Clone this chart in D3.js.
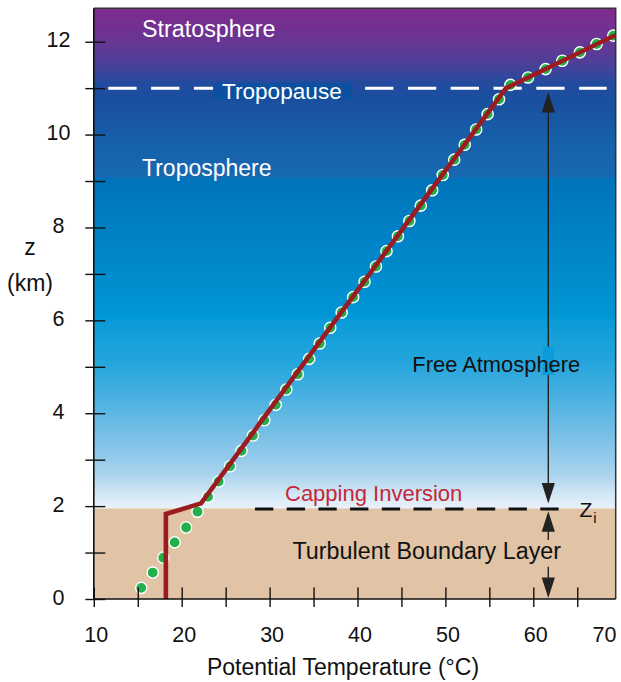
<!DOCTYPE html>
<html><head><meta charset="utf-8">
<script src="https://cdn.jsdelivr.net/npm/d3@7"></script>
<style>html,body{margin:0;padding:0;background:#fff;} svg{display:block;} text{font-family:"Liberation Sans",Arial,Helvetica,sans-serif;}</style>
</head><body><svg id="c" width="621" height="682"></svg>
<script>
// ---- data ----
const blTemp = [15.4, 16.7, 17.9, 19.2, 20.5, 21.8];
const blZ    = [0.24, 0.57, 0.89, 1.22, 1.54, 1.88];
const dotTemp = [23.0, 24.2, 25.5, 26.8, 28.1, 29.4, 30.7, 31.9, 33.2, 34.5, 35.7, 36.9, 38.2, 39.5, 40.8, 42.1, 43.3, 44.6, 45.9, 47.2, 48.5, 49.7, 51.0, 52.2, 53.5, 54.8, 56.1, 57.4, 59.4, 61.4, 63.3, 65.3, 67.2, 69.1];
const dotZ    = [2.20, 2.53, 2.86, 3.19, 3.52, 3.85, 4.18, 4.51, 4.84, 5.17, 5.50, 5.84, 6.17, 6.50, 6.83, 7.16, 7.49, 7.81, 8.14, 8.47, 8.80, 9.13, 9.46, 9.78, 10.11, 10.44, 10.76, 11.07, 11.23, 11.41, 11.59, 11.77, 11.95, 12.13];
const profileTemp = [18.2, 18.2, 22.2, 56.9, 69.3];
const profileZ    = [0, 1.83, 2.06, 11.0, 12.14];
const tropopauseZ = 11.0;
const ziZ = 1.95;
const xTicks = [10, 15, 20, 25, 30, 35, 40, 45, 50, 55, 60, 65];
const xTickLabels = [10, 20, 30, 40, 50, 60, 70];
const yTicks = [0, 1, 2, 3, 4, 5, 6, 7, 8, 9, 10, 11, 12];
const yTickLabels = [0, 2, 4, 6, 8, 10, 12];
const layerNames = ["Stratosphere", "Tropopause", "Troposphere", "Free Atmosphere", "Capping Inversion", "Turbulent Boundary Layer"];
const xTitle = "Potential Temperature (\u00B0C)";

// ---- layout ----
const L = 93.8, R = 615.7, T = 8.3, B = 599;
const x = d3.scaleLinear().domain([10, 70]).range([93.8, 621.2]);
const y = d3.scaleLinear().domain([0, 12]).range([599, 41.7]);
const svg = d3.select("#c");
const defs = svg.append("defs");
defs.append("clipPath").attr("id", "clip").append("rect").attr("x", L).attr("y", T).attr("width", R - L).attr("height", B - T);

const yZi = y(ziZ);
const g = defs.append("linearGradient").attr("id", "sky").attr("gradientUnits", "userSpaceOnUse")
  .attr("x1", 0).attr("x2", 0).attr("y1", T).attr("y2", yZi);
const stops = [[8.3, "#7f2a8e"], [40, "#693593"], [65, "#4a4199"], [84, "#214b9e"], [100, "#1a4f9f"], [140, "#1660aa"], [177, "#1869b1"], [178, "#0073ba"], [250, "#0085c8"], [318, "#0097d6"], [320, "#0a9bd8"], [360, "#22a5dc"], [400, "#4db1e1"], [435, "#78c0e6"], [455, "#90c9ea"], [475, "#abd4ee"], [492, "#cfe5f4"], [508.4, "#e8f2fa"]];
stops.forEach(s => g.append("stop").attr("offset", (s[0] - T) / (yZi - T)).attr("stop-color", s[1]));

const plot = svg.append("g").attr("clip-path", "url(#clip)");
plot.append("rect").attr("x", L).attr("y", T).attr("width", R - L).attr("height", yZi - T).attr("fill", "url(#sky)");
plot.append("rect").attr("x", L).attr("y", yZi).attr("width", R - L).attr("height", B - yZi).attr("fill", "#e1c3a6");

// tropopause dashed line
plot.append("line").attr("x1", 108.3).attr("x2", 606.7).attr("y1", y(tropopauseZ)).attr("y2", y(tropopauseZ))
  .attr("stroke", "#fff").attr("stroke-width", 3).attr("stroke-dasharray", "28.3,14.5");
// capping inversion dashed line
plot.append("line").attr("x1", 255).attr("x2", 561).attr("y1", yZi + 0.5).attr("y2", yZi + 0.5)
  .attr("stroke", "#111").attr("stroke-width", 3).attr("stroke-dasharray", "18.3,13.4");

// arrows
const ax = 548.3;
function head(tipY, dir) { // dir -1 = up, +1 = down
  const b = tipY - dir * 20.5;
  return `M${ax},${tipY}L${ax - 6.6},${b}L${ax + 6.6},${b}Z`;
}
const yTop = y(tropopauseZ) + 3.8;
plot.append("line").attr("x1", ax).attr("x2", ax).attr("y1", yTop + 20).attr("y2", yZi - 25).attr("stroke", "#222").attr("stroke-width", 1.4);
plot.append("path").attr("d", head(yTop, -1)).attr("fill", "#222");
plot.append("path").attr("d", head(yZi - 5, 1)).attr("fill", "#222");
plot.append("line").attr("x1", ax).attr("x2", ax).attr("y1", yZi + 22).attr("y2", 540).attr("stroke", "#222").attr("stroke-width", 1.4);
plot.append("line").attr("x1", ax).attr("x2", ax).attr("y1", 566.7).attr("y2", 578).attr("stroke", "#222").attr("stroke-width", 1.4);
plot.append("path").attr("d", head(yZi + 2.8, -1)).attr("fill", "#222");
plot.append("path").attr("d", head(y(0) - 1, 1)).attr("fill", "#222");

// knockout behind "p" of Free Atmosphere and box behind Tropopause
plot.append("rect").attr("x", 542.7).attr("y", 346.7).attr("width", 11.3).attr("height", 28.3).attr("fill", "#0c9cdc");
plot.append("rect").attr("x", 213).attr("y", 83.3).attr("width", 139).attr("height", 16).attr("fill", "#0c50a2");

// labels
const lab = [
  [layerNames[0], 142, 36.5, "#fff", 23.3],
  [layerNames[1], 222, 98.5, "#fff", 22.6],
  [layerNames[2], 142, 176.2, "#fff", 23],
  [layerNames[3], 412.3, 371.5, "#111", 21.9],
  [layerNames[4], 285, 500.7, "#c4283a", 22],
  [layerNames[5], 292.5, 559.3, "#111", 23.3]
];
lab.forEach(d => plot.append("text").attr("x", d[1]).attr("y", d[2]).attr("fill", d[3]).attr("font-size", d[4]).text(d[0]));
const zt = svg.append("text").attr("x", 579.5).attr("y", 516.7).attr("font-size", 21).attr("fill", "#111");
zt.append("tspan").text("Z");
zt.append("tspan").attr("font-size", 15).attr("dy", 6.5).attr("dx", 1).text("i");

// dots
const marks = svg.append("g").attr("clip-path", "url(#clip)");
const dots = blTemp.map((t, i) => [t, blZ[i]]).concat(dotTemp.map((t, i) => [t, dotZ[i]]));
marks.append("g").selectAll("circle").data(dots).join("circle")
  .attr("cx", d => x(d[0])).attr("cy", d => y(d[1])).attr("r", 5.6)
  .attr("fill", "#22b04b").attr("stroke", "#fff").attr("stroke-width", 1.4);

// profile line
const prof = profileTemp.map((t, i) => [t, profileZ[i]]);
marks.append("path").datum(prof).attr("d", d3.line().x(d => x(d[0])).y(d => y(d[1])))
  .attr("fill", "none").attr("stroke", "#9b1c20").attr("stroke-width", 4.6).attr("stroke-linejoin", "miter");

// axes
const xAxis = svg.append("g").attr("transform", `translate(0,${B})`)
  .call(d3.axisBottom(x).tickValues(xTicks).tickSize(8).tickFormat(""));
xAxis.select(".domain").remove();
xAxis.selectAll(".tick line").attr("y1", -11.5).attr("stroke", "#111").attr("stroke-width", 1.4);
svg.append("g").selectAll("text").data(xTickLabels).join("text")
  .attr("x", d => Math.min(x(d) + 2.5, 604.5)).attr("y", 641.5).attr("text-anchor", "middle")
  .attr("font-size", 21.5).attr("fill", "#111").text(d => d);

const yAxis = svg.append("g").attr("transform", `translate(${L},0)`)
  .call(d3.axisLeft(y).tickValues(yTicks).tickSize(8.5).tickFormat(""));
yAxis.select(".domain").remove();
yAxis.selectAll(".tick line").attr("x1", 11.5).attr("stroke", "#111").attr("stroke-width", 1.4);
svg.append("g").selectAll("text").data(yTickLabels).join("text")
  .attr("x", 58.5).attr("y", d => y(d) + 5.5).attr("text-anchor", "middle")
  .attr("font-size", 21.5).attr("fill", "#111").text(d => d);

// frame
svg.append("path").attr("d", `M${L},${T}H${R}V${B}`).attr("fill", "none").attr("stroke", "#333").attr("stroke-width", 1.5);
svg.append("path").attr("d", `M${L},${T}V${B}H${R}`).attr("fill", "none").attr("stroke", "#111").attr("stroke-width", 1.6);

// titles
svg.append("text").attr("x", 343).attr("y", 675).attr("text-anchor", "middle").attr("font-size", 23).attr("fill", "#111").text(xTitle);
svg.append("text").attr("x", 30).attr("y", 255).attr("text-anchor", "middle").attr("font-size", 23).attr("fill", "#111").text("z");
svg.append("text").attr("x", 30).attr("y", 291).attr("text-anchor", "middle").attr("font-size", 23).attr("fill", "#111").text("(km)");
</script></body></html>
